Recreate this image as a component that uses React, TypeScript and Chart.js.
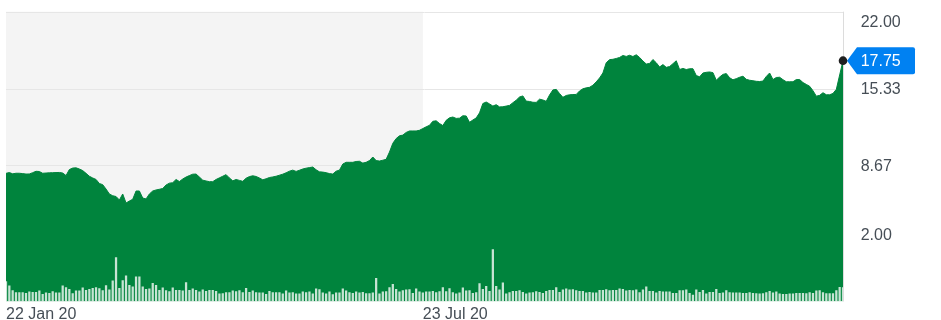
import React, { useEffect, useRef } from 'react';
import { Chart, registerables } from 'chart.js';

Chart.register(...registerables);

// Daily closing price
const price: number[] = [
  7.97, 8.04, 7.93, 7.98, 7.98, 7.95, 7.91, 7.92, 8.03, 8.15,
  8.13, 7.98, 8.00, 8.02, 8.03, 8.04, 8.05, 8.00, 7.78, 8.30,
  8.43, 8.45, 8.35, 8.21, 7.97, 7.72, 7.57, 7.44, 7.09, 6.99,
  6.61, 6.18, 6.03, 5.96, 5.66, 6.18, 5.40, 5.57, 5.72, 6.44,
  6.44, 5.83, 5.75, 6.18, 6.44, 6.53, 6.59, 6.66, 6.96, 7.12,
  7.16, 7.44, 7.26, 7.48, 7.65, 7.78, 7.90, 7.91, 7.65, 7.38,
  7.31, 7.25, 7.25, 7.44, 7.58, 7.72, 7.86, 7.57, 7.32, 7.44,
  7.36, 7.28, 7.55, 7.69, 7.76, 7.70, 7.57, 7.41, 7.50, 7.61,
  7.66, 7.72, 7.81, 7.90, 8.02, 8.16, 8.25, 8.14, 8.24, 8.35,
  8.42, 8.47, 8.52, 8.28, 8.10, 8.08, 8.03, 7.95, 7.91, 8.16,
  8.25, 8.78, 8.93, 8.93, 8.93, 9.00, 9.02, 8.86, 8.93, 9.08,
  9.39, 9.08, 9.04, 9.11, 9.19, 9.82, 10.58, 10.99, 11.23, 11.29,
  11.52, 11.65, 11.65, 11.65, 11.71, 11.86, 12.01, 12.14, 12.49, 12.53,
  12.30, 12.12, 12.57, 12.79, 12.86, 12.74, 12.76, 12.97, 12.95, 12.40,
  12.60, 12.78, 13.22, 14.03, 14.16, 14.00, 13.81, 13.93, 13.74, 13.75,
  13.81, 13.87, 14.10, 14.32, 14.60, 14.69, 14.24, 14.21, 14.14, 14.13,
  14.41, 14.34, 14.22, 14.77, 15.21, 15.26, 14.90, 14.57, 14.73, 14.79,
  14.81, 14.82, 15.12, 15.31, 15.39, 15.44, 15.62, 15.91, 16.25, 16.68,
  17.57, 17.84, 17.87, 17.94, 18.03, 18.20, 18.12, 18.22, 18.11, 18.26,
  18.03, 17.72, 17.46, 17.51, 17.85, 17.57, 17.20, 17.41, 17.17, 17.24,
  17.49, 17.74, 16.98, 17.08, 16.98, 17.05, 17.05, 16.46, 16.35, 16.68,
  16.74, 16.77, 16.71, 16.05, 16.33, 16.56, 16.63, 16.27, 16.09, 16.19,
  16.31, 16.40, 16.13, 16.05, 16.01, 15.96, 15.94, 15.98, 16.38, 16.68,
  16.11, 16.29, 16.31, 16.10, 15.92, 15.92, 15.92, 16.11, 16.11, 15.85,
  15.69, 15.53, 15.14, 14.67, 14.74, 14.97, 14.79, 14.79, 14.91, 15.26,
  16.51, 17.75,
];

// Daily traded volume (relative units)
const volume: number[] = [
  20, 15.7, 11, 9, 9, 9, 8.3, 9.7, 9.3, 9.3,
  10.7, 7.3, 8.7, 8.3, 10, 8.7, 8.7, 15.7, 14, 12.3,
  8, 10.7, 10.7, 13.7, 11.3, 12.3, 13.3, 14, 13, 11,
  16, 11.7, 20.7, 44, 13.3, 21, 25.7, 16.3, 14.7, 24.7,
  24.7, 14.7, 12.3, 12.7, 18.3, 16.3, 11.3, 13.7, 11, 10,
  13.7, 11.3, 11.3, 10.7, 19, 11.3, 12.7, 11.3, 9.7, 11.7,
  10.3, 11.3, 11.3, 10.3, 7.7, 8, 9, 9, 10.7, 10,
  11, 9, 13.3, 9.3, 10.7, 9, 8.7, 8.7, 7.3, 10.3,
  9, 9,
  9, 7.7, 10.7, 8.7, 9, 7.7, 7.7, 9.7, 9, 9.7,
  7.7, 12.7, 12, 8.7, 7.7, 9.7, 7, 8.7, 8.7, 12.7,
  10.7, 9, 8.3, 9.7, 8.7, 9.3, 8, 8, 8.7, 23.3,
  7.7, 9.7, 10, 14, 17.3, 12.3, 9.7, 11, 11.7, 12,
  8.3, 12.7, 9.7, 8.7, 9.7, 9.7, 10.3, 9, 10,
  14, 10, 13, 9, 7.7, 8.7, 13.7, 10.7, 11, 8.3,
  9, 18, 12.3, 15.3, 10.3, 52, 15.3, 11.7, 18.7, 7.7,
  9, 10.3, 10.3, 11, 9.3, 7.7, 8.7, 9, 10, 9.3,
  8.3, 10.3, 11.3, 11.3, 14,
  9.3, 11.7, 12.7, 11.7, 12, 11, 10.3, 10.3, 8.7, 9.3,
  8.7, 8.7, 11.3, 11.3, 12, 11, 11.3, 11.3, 12.7, 12.3,
  10.7, 11.3, 11, 11.7, 9, 11.7, 14.7, 10.3, 10.3, 8.7,
  10.3, 9.7, 9.7, 9.7, 8.3, 8.3, 11, 11, 11.7, 8.3,
  6.3, 11.7, 9.3, 11.3, 7.7, 9.3, 9.3, 12.3, 8.3, 8.7,
  11, 9, 8.7, 8.7, 8.7, 8.3, 8.3, 9, 8.3, 8,
  7.7, 8, 9, 10.3, 8.7, 9.7, 7.7, 7.3, 7.3, 7.7,
  7.7, 8.3, 8.3, 8.3, 8, 9, 8.3, 10.7, 11, 9,
  8, 8, 8, 11, 14.3, 14,
];

const yTickValues: number[] = [22, 15.33, 8.67, 2];
const yTickLabels: string[] = ['22.00', '15.33', '8.67', '2.00'];
const xTickIndex: number[] = [0, 125];
const xTickLabels: string[] = ['22 Jan 20', '23 Jul 20'];
const shadedUntilIndex = 125;
const lastPriceLabel = '17.75';

const GREEN = '#00843d';
const TEXT = '#464e56';
const BLUE = '#0081f2';
const FONT = '"Liberation Sans", Arial, Helvetica, sans-serif';

export default function App() {
  const ref = useRef<HTMLCanvasElement>(null);

  useEffect(() => {
    const canvas = ref.current;
    if (!canvas) return;

    const decor = {
      id: 'decor',
      beforeDatasetsDraw(chart: any) {
        const { ctx, chartArea: a, scales } = chart;
        const x = scales.x;
        const y = scales.y;
        ctx.save();
        const xs = x.getPixelForValue(shadedUntilIndex);
        ctx.fillStyle = '#f4f4f4';
        ctx.fillRect(a.left, a.top, xs - a.left, a.bottom - a.top);
        ctx.strokeStyle = '#e6e6e6';
        ctx.lineWidth = 1;
        yTickValues.forEach((v) => {
          const py = Math.round(y.getPixelForValue(v)) + 0.5;
          ctx.beginPath();
          ctx.moveTo(a.left, py);
          ctx.lineTo(a.right, py);
          ctx.stroke();
        });
        ctx.strokeStyle = '#dcdcdc';
        const rx = Math.round(a.right) + 0.5;
        ctx.beginPath();
        ctx.moveTo(rx, a.top);
        ctx.lineTo(rx, a.bottom);
        ctx.stroke();
        ctx.restore();
      },
      afterDatasetsDraw(chart: any) {
        const { ctx, chartArea: a, scales } = chart;
        const x = scales.x;
        const y = scales.y;
        ctx.save();
        ctx.font = `16px ${FONT}`;
        ctx.fillStyle = TEXT;
        ctx.textBaseline = 'middle';
        ctx.textAlign = 'left';
        const labelX = a.right + 17.7;
        yTickValues.forEach((v, i) => {
          let py = y.getPixelForValue(v);
          py = Math.max(py + 1.5, a.top + 11);
          py = Math.min(py, a.bottom - 66);
          ctx.fillText(yTickLabels[i], labelX, py);
        });

        // x labels
        ctx.textBaseline = 'alphabetic';
        xTickIndex.forEach((idx, i) => {
          const px = x.getPixelForValue(idx);
          ctx.fillText(xTickLabels[i], Math.max(px, 4), 318.5);
        });

        // last price marker
        const li = price.length - 1;
        const px = x.getPixelForValue(li);
        const py = y.getPixelForValue(price[li]);
        const tip = px + 4;
        const bl = px + 14;
        const br = px + 72;
        const h = 13.5;
        const r = 2;
        ctx.fillStyle = BLUE;
        ctx.beginPath();
        ctx.moveTo(tip, py);
        ctx.lineTo(bl, py - h);
        ctx.lineTo(br - r, py - h);
        ctx.quadraticCurveTo(br, py - h, br, py - h + r);
        ctx.lineTo(br, py + h - r);
        ctx.quadraticCurveTo(br, py + h, br - r, py + h);
        ctx.lineTo(bl, py + h);
        ctx.closePath();
        ctx.fill();
        ctx.fillStyle = '#ffffff';
        ctx.textBaseline = 'middle';
        ctx.fillText(lastPriceLabel, labelX, py + 0.5);

        ctx.fillStyle = '#1f1f1f';
        ctx.beginPath();
        ctx.arc(px, py, 4.3, 0, Math.PI * 2);
        ctx.fill();
        ctx.restore();
      },
    };

    const chart = new Chart(canvas, {
      type: 'bar',
      data: {
        labels: price.map((_, i) => String(i)),
        datasets: [
          {
            type: 'line',
            data: price,
            yAxisID: 'y',
            order: 2,
            borderColor: GREEN,
            borderWidth: 1,
            backgroundColor: GREEN,
            fill: 'start',
            pointRadius: 0,
            tension: 0,
          } as any,
          {
            type: 'bar',
            data: volume,
            yAxisID: 'v',
            order: 1,
            backgroundColor: 'rgba(255,255,255,0.78)',
            barThickness: 1.6,
            borderWidth: 0,
          } as any,
        ],
      },
      options: {
        responsive: false,
        animation: false,
        layout: { padding: { left: 6, right: 98, top: 11.7, bottom: 18.5 } },
        plugins: { legend: { display: false }, tooltip: { enabled: false } },
        events: [],
        scales: {
          x: { type: 'category', display: false, offset: false },
          y: { type: 'linear', display: false, min: -3.15, max: 22 },
          v: { type: 'linear', display: false, min: 0, max: 290 },
        },
      } as any,
      plugins: [decor],
    });

    return () => chart.destroy();
  }, []);

  return (
    <div style={{ position: 'absolute', left: 0, top: 0, width: 941, height: 320, background: '#ffffff' }}>
      <canvas ref={ref} width={941} height={320} style={{ display: 'block' }} />
    </div>
  );
}
